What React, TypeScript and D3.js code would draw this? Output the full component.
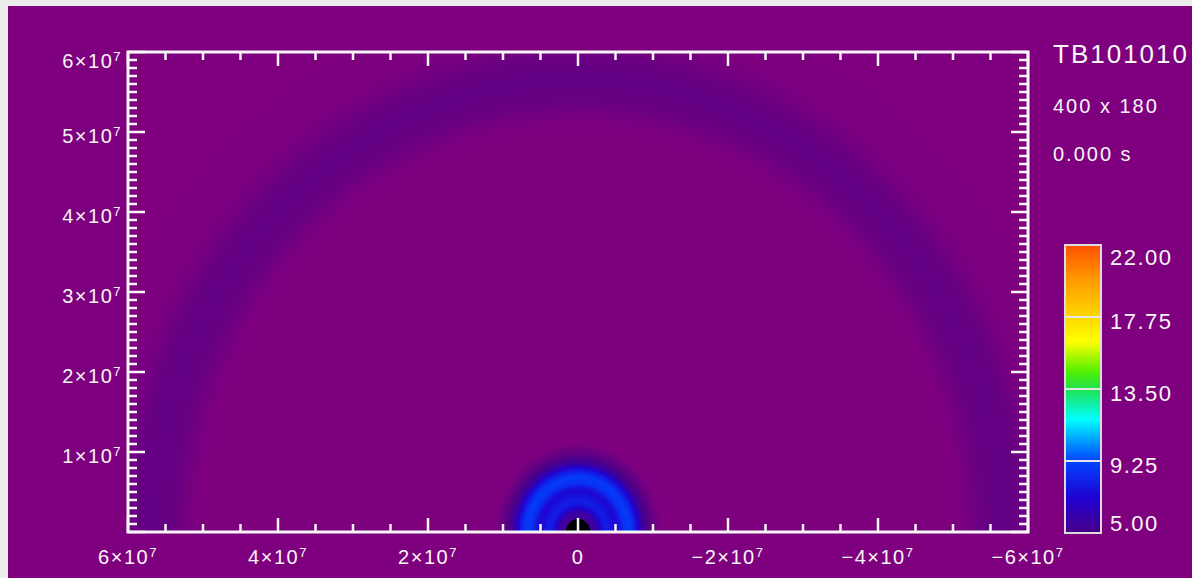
import React from "react";
import * as d3 from "d3";

// radial profile of the field (radius in m, value on the colour-bar scale)
const profileRadius = [0, 1.6e6, 1.65e6, 2.5e6, 3.3e6, 3.9e6, 4.6e6, 5.3e6, 6.1e6, 6.9e6, 7.7e6, 8.5e6, 9.5e6, 10.8e6, 12e6, 49.5e6, 52e6, 54e6, 56.5e6, 58.5e6, 60.5e6, 63e6, 90e6];
const profileValue = [0, 0, 5.4, 5.8, 7.6, 8.0, 7.4, 7.2, 8.6, 9.0, 7.8, 5.8, 4.6, 3.7, 3.45, 3.45, 3.75, 4.15, 4.3, 4.2, 3.85, 3.55, 3.5];

// colour table
const colorValues = [0, 3.5, 5, 7, 9.25, 10.5, 11.7, 13.5, 14.5, 16.3, 17.75, 20, 22];
const colorHex = ["#000000", "#7f007f", "#4a0088", "#2000d0", "#0044ff", "#00a0ff", "#00ffff", "#20e050", "#50f000", "#ffff00", "#ffd800", "#ff9800", "#ff5000"];

const xTicks = [6e7, 4e7, 2e7, 0, -2e7, -4e7, -6e7];
const yTicks = [1e7, 2e7, 3e7, 4e7, 5e7, 6e7];
const barTicks = [5, 9.25, 13.5, 17.75, 22];
const titleLines = ["TB101010", "400 x 180", "0.000 s"];

const W = 1192;
const H = 578;
const WHITE = "#f6f6f6";
const FONT = "'Liberation Sans', Arial, sans-serif";

const Sci = ({ v }: { v: number }) => {
  if (v === 0) return <>0</>;
  const m = Math.round(v / 1e7);
  return (
    <>
      {(m < 0 ? "\u2212" : "") + Math.abs(m) + "\u00d710"}
      <tspan dy={-7} fontSize={13}>7</tspan>
    </>
  );
};

export default function App() {
  const x = d3.scaleLinear().domain([6e7, -6e7]).range([128, 1028]);
  const y = d3.scaleLinear().domain([0, 6e7]).range([532, 52]);
  const color = d3.scaleLinear<string>().domain(colorValues).range(colorHex).clamp(true);
  const profile = d3.scaleLinear().domain(profileRadius).range(profileValue);
  const rMax = profileRadius[profileRadius.length - 1];

  const fieldStops = d3.range(0, 1.0001, 0.0025).map(t => ({ t, c: color(profile(t * rMax)) }));
  // keep the black core edge sharp
  fieldStops.push({ t: 1.6e6 / rMax, c: color(0) }, { t: 1.65e6 / rMax, c: color(5.4) });
  fieldStops.sort((a, b) => a.t - b.t);

  const xMinor = d3.range(-6e7, 6e7 + 1, 5e6);
  const yMinor = d3.range(0, 6e7 + 1, 1e6);

  const bar = d3.scaleLinear().domain([5, 22]).range([533, 245]);
  const barStops = colorValues.filter(v => v >= 5).map(v => ({ t: (v - 5) / 17, c: color(v) }));

  const [x0, x1] = x.range();
  const [yb, yt] = y.range();

  return (
    <svg width={W} height={H} style={{ position: "fixed", left: 0, top: 0 }} fontFamily={FONT}>
      <defs>
        <radialGradient id="field">
          {fieldStops.map((s, i) => (
            <stop key={i} offset={s.t} stopColor={s.c} />
          ))}
        </radialGradient>
        <linearGradient id="bar" x1="0" y1="1" x2="0" y2="0">
          {barStops.map((s, i) => (
            <stop key={i} offset={s.t} stopColor={s.c} />
          ))}
        </linearGradient>
        <clipPath id="plot">
          <rect x={x0} y={yt} width={x1 - x0} height={yb - yt} />
        </clipPath>
      </defs>

      <rect width={W} height={H} fill="#ececec" />
      <rect x={8} y={6} width={W - 8} height={H - 6} fill={color(3.5)} />

      <g clipPath="url(#plot)">
        <ellipse
          cx={x(0)}
          cy={y(0)}
          rx={Math.abs(x(rMax) - x(0))}
          ry={Math.abs(y(rMax) - y(0))}
          fill="url(#field)"
        />
      </g>

      {/* ticks */}
      <g stroke={WHITE} strokeWidth={2.5}>
        {xMinor.map(v => {
          const len = v % 2e7 === 0 ? 14 : 8;
          return (
            <g key={"x" + v}>
              <line x1={x(v)} x2={x(v)} y1={yb} y2={yb - len} />
              <line x1={x(v)} x2={x(v)} y1={yt} y2={yt + len} />
            </g>
          );
        })}
        {yMinor.map(v => {
          const len = v % 1e7 === 0 ? 17 : 9;
          return (
            <g key={"y" + v}>
              <line x1={x0} x2={x0 + len} y1={y(v)} y2={y(v)} />
              <line x1={x1} x2={x1 - len} y1={y(v)} y2={y(v)} />
            </g>
          );
        })}
      </g>
      <rect x={x0} y={yt} width={x1 - x0} height={yb - yt} fill="none" stroke={WHITE} strokeWidth={3} />

      {/* tick labels */}
      <g fill={WHITE} fontSize={20} letterSpacing={1.5}>
        {xTicks.map(v => (
          <text key={"xl" + v} x={x(v)} y={564} textAnchor="middle">
            <Sci v={v} />
          </text>
        ))}
        {yTicks.map(v => (
          <text key={"yl" + v} x={122} y={Math.max(y(v) + 11, 68)} textAnchor="end">
            <Sci v={v} />
          </text>
        ))}
      </g>

      {/* colour bar */}
      <rect x={1065} y={245} width={36} height={288} fill="url(#bar)" stroke="#dcdcdc" strokeWidth={2} />
      {barTicks.slice(1, -1).map(v => (
        <line key={"bt" + v} x1={1065} x2={1101} y1={bar(v)} y2={bar(v)} stroke="#e6e6e6" strokeWidth={2} />
      ))}
      <g fill={WHITE} fontSize={22} letterSpacing={1.5}>
        {barTicks.map(v => (
          <text key={"bl" + v} x={1110} y={Math.min(Math.max(bar(v) + 12, 265), 531)}>
            {d3.format(".2f")(v)}
          </text>
        ))}
      </g>

      {/* title */}
      <g fill={WHITE}>
        <text x={1053} y={63} fontSize={26} letterSpacing={2}>{titleLines[0]}</text>
        <text x={1053} y={113} fontSize={20} letterSpacing={2}>{titleLines[1]}</text>
        <text x={1053} y={161} fontSize={20} letterSpacing={2}>{titleLines[2]}</text>
      </g>
    </svg>
  );
}
